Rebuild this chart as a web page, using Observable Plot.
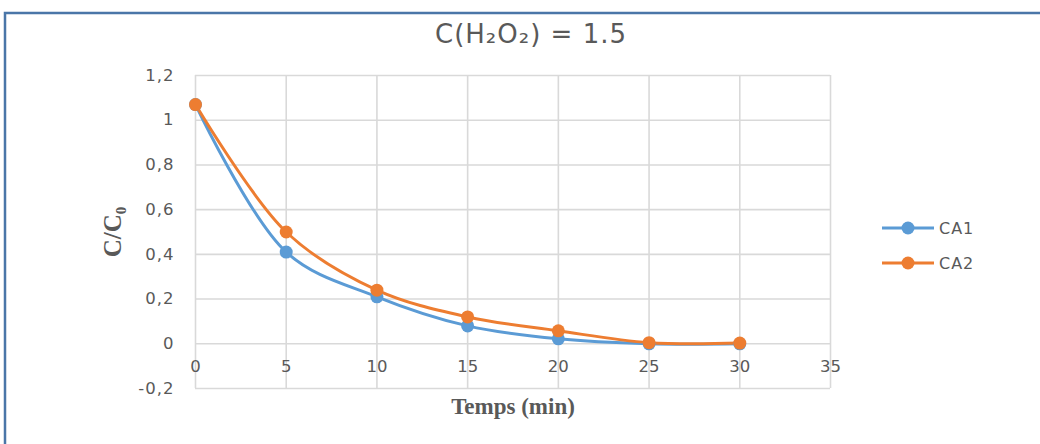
<!DOCTYPE html>
<html>
<head>
<meta charset="utf-8">
<script src="https://cdn.jsdelivr.net/npm/d3@7"></script>
<script src="https://cdn.jsdelivr.net/npm/@observablehq/plot@0.6"></script>
<style>
  html, body { margin: 0; padding: 0; background: #fff; }
  #chart { width: 1040px; height: 444px; overflow: hidden; }
</style>
</head>
<body>
<div id="chart"></div>
<script>
const times = [0, 5, 10, 15, 20, 25, 30];
const ca1 = [1.07, 0.41, 0.21, 0.08, 0.022, 0.0, 0.0];
const ca2 = [1.07, 0.50, 0.24, 0.12, 0.058, 0.005, 0.003];
const seriesNames = ["CA1", "CA2"];
const seriesColors = ["#5B9BD5", "#ED7D31"];
const xTicks = [0, 5, 10, 15, 20, 25, 30, 35];
const yTicks = [-0.2, 0, 0.2, 0.4, 0.6, 0.8, 1.0, 1.2];
const titleText = "C(H\u2082O\u2082) = 1.5";
const yLabel = "C/C\u2080";
const xLabel = "Temps (min)";

const rows = [];
[ca1, ca2].forEach((vals, i) => {
  vals.forEach((v, j) => rows.push({series: seriesNames[i], t: times[j], v}));
});

const fmt = d => String(+d.toFixed(1)).replace(".", ",");
const gridColor = "#d9d9d9";
const textColor = "#595959";
const tickFont = "DejaVu Sans";

const plot = Plot.plot({
  width: 1040,
  height: 444,
  marginLeft: 195,
  marginRight: 210,
  marginTop: 75,
  marginBottom: 56,
  style: {background: "#fff", fontFamily: tickFont},
  x: {domain: [0, 35], axis: null},
  y: {domain: [-0.2, 1.2], axis: null},
  color: {domain: seriesNames, range: seriesColors},
  marks: [
    Plot.ruleX(xTicks, {x: d => d, stroke: gridColor, strokeWidth: 1.6}),
    Plot.ruleY(yTicks, {y: d => d, stroke: gridColor, strokeWidth: 1.6}),
    Plot.axisY(yTicks, {tickSize: 0, tickPadding: 21, tickFormat: fmt, fontSize: 16.5, fill: textColor, label: null}),
    Plot.text(xTicks, {x: d => d, y: d => 0, dy: 23, text: d => String(d), fontSize: 16.5, fill: textColor}),
    Plot.line(rows, {x: "t", y: "v", z: "series", stroke: "series", strokeWidth: 3, curve: "catmull-rom"}),
    Plot.dot(rows, {x: "t", y: "v", fill: "series", r: 6.5}),
    Plot.text([titleText], {frameAnchor: "top", lineAnchor: "middle", dy: -41, dx: 18, fontSize: 26, fill: textColor, fontFamily: "DejaVu Sans"}),
    Plot.text([yLabel], {frameAnchor: "left", textAnchor: "middle", lineAnchor: "middle", dx: -83, rotate: -90, fontSize: 25, fontWeight: "bold", fontFamily: "Liberation Serif", fill: textColor}),
    Plot.text([xLabel], {frameAnchor: "bottom", lineAnchor: "middle", dy: 18, fontSize: 23, fontWeight: "bold", fontFamily: "Liberation Serif", fill: textColor})
  ]
});

const svg = d3.select(plot);
svg.selectAll("g[aria-label='y-axis tick label'] text").attr("letter-spacing", "1px");
svg.selectAll("g[aria-label='text'] text").filter(function() { return this.textContent === titleText; })
  .attr("letter-spacing", "1px");
// outer chart border (top and left visible)
svg.append("rect").attr("x", 5).attr("y", 13).attr("width", 1200).attr("height", 600)
  .attr("fill", "none").attr("stroke", "#4A76A8").attr("stroke-width", 2.5);
// legend
const lg = svg.append("g").attr("text-anchor", "start");
seriesNames.forEach((name, i) => {
  const y = 228 + i * 35;
  lg.append("line").attr("x1", 882).attr("x2", 934).attr("y1", y).attr("y2", y)
    .attr("stroke", seriesColors[i]).attr("stroke-width", 3);
  lg.append("circle").attr("cx", 908).attr("cy", y).attr("r", 6.5).attr("fill", seriesColors[i]);
  lg.append("text").attr("x", 939).attr("y", y).attr("dy", "0.35em")
    .attr("font-size", 16).attr("letter-spacing", "1px").attr("fill", textColor)
    .attr("font-family", tickFont).text(name);
});

document.getElementById("chart").appendChild(plot);
</script>
</body>
</html>
